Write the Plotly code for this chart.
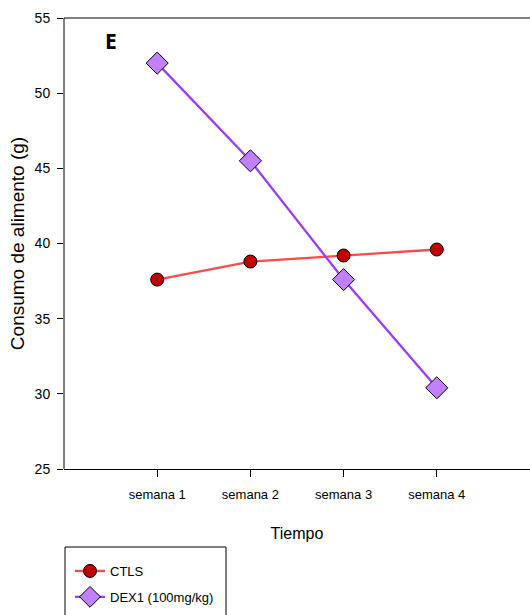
import plotly.graph_objects as go

# Weekly food intake (g) per group
semanas = ["semana 1", "semana 2", "semana 3", "semana 4"]
semana_pos = [1, 2, 3, 4]
ctls = [37.6, 38.8, 39.2, 39.6]
dex1 = [52.0, 45.5, 37.6, 30.4]

y_ticks = [25, 30, 35, 40, 45, 50, 55]

REGULAR = "Liberation Sans, Arial, sans-serif"

# plot-area geometry in pixels, used to place the legend frame
W, H = 530, 615
L, T, B, R = 64, 18, 146, 0
plot_w = W - L - R
plot_h = H - T - B


def px_x(x):
    return (x - L) / plot_w


def px_y(y):
    return (H - B - y) / plot_h


fig = go.Figure()

fig.add_trace(go.Scatter(
    x=semana_pos, y=ctls, name="CTLS", mode="lines+markers",
    legendgroup="a",
    line=dict(color="#ff4a4a", width=2.3),
    marker=dict(symbol="circle", size=13, color="#c00000",
                line=dict(color="#000000", width=1)),
))
fig.add_trace(go.Scatter(
    x=semana_pos, y=dex1, name="DEX1 (100mg/kg)", mode="lines+markers",
    legendgroup="b",
    line=dict(color="#9a3cff", width=2.3),
    marker=dict(symbol="diamond", size=17, color="#c080ff",
                line=dict(color="#000000", width=1)),
))

fig.add_annotation(
    text="<b>E</b>", xref="paper", yref="paper", x=px_x(110.5), y=px_y(41),
    xanchor="center", yanchor="middle", showarrow=False,
    font=dict(family="Open Sans, DejaVu Sans, sans-serif", size=21, color="#000000"),
)

# frame: left and top lines, plus the legend frame
fig.add_shape(type="line", xref="paper", yref="paper", x0=0, x1=1, y0=1, y1=1,
              line=dict(color="#000000", width=1))
fig.add_shape(type="line", xref="paper", yref="paper", x0=0, x1=0, y0=0, y1=1,
              line=dict(color="#000000", width=1))
fig.add_shape(type="rect", xref="paper", yref="paper",
              x0=px_x(65), x1=px_x(226), y0=px_y(547), y1=px_y(630),
              line=dict(color="#000000", width=1), fillcolor="rgba(0,0,0,0)")

fig.update_layout(
    template="none",
    width=W, height=H,
    margin=dict(l=L, r=R, t=T, b=B, autoexpand=False),
    paper_bgcolor="white", plot_bgcolor="white",
    font=dict(family=REGULAR, color="#000000"),
    showlegend=True,
    legend=dict(
        x=px_x(70), y=px_y(556), xanchor="left", yanchor="top",
        borderwidth=0, bgcolor="rgba(0,0,0,0)",
        font=dict(family=REGULAR, size=13, color="#000000"),
        itemwidth=30, tracegroupgap=6,
    ),
    xaxis=dict(
        range=[0, 5], tickmode="array", tickvals=semana_pos, ticktext=semanas,
        showgrid=False, zeroline=False, mirror=False,
        showline=True, linecolor="#000000", linewidth=1,
        ticks="outside", ticklen=7, tickcolor="#000000",
        ticklabelstandoff=6,
        tickfont=dict(family=REGULAR, size=13, color="#000000"),
        title=dict(text="Tiempo", font=dict(family=REGULAR, size=16, color="#000000"),
                   standoff=27),
    ),
    yaxis=dict(
        range=[25, 55], tickmode="array", tickvals=y_ticks,
        showgrid=False, zeroline=False, mirror=False,
        showline=False,
        ticks="outside", ticklen=6, tickcolor="#000000",
        ticklabelstandoff=4,
        tickfont=dict(family=REGULAR, size=14, color="#000000"),
        title=dict(text="Consumo de alimento (g)",
                   font=dict(family=REGULAR, size=19, color="#000000"),
                   standoff=4),
    ),
)

fig.write_html("out.html")
